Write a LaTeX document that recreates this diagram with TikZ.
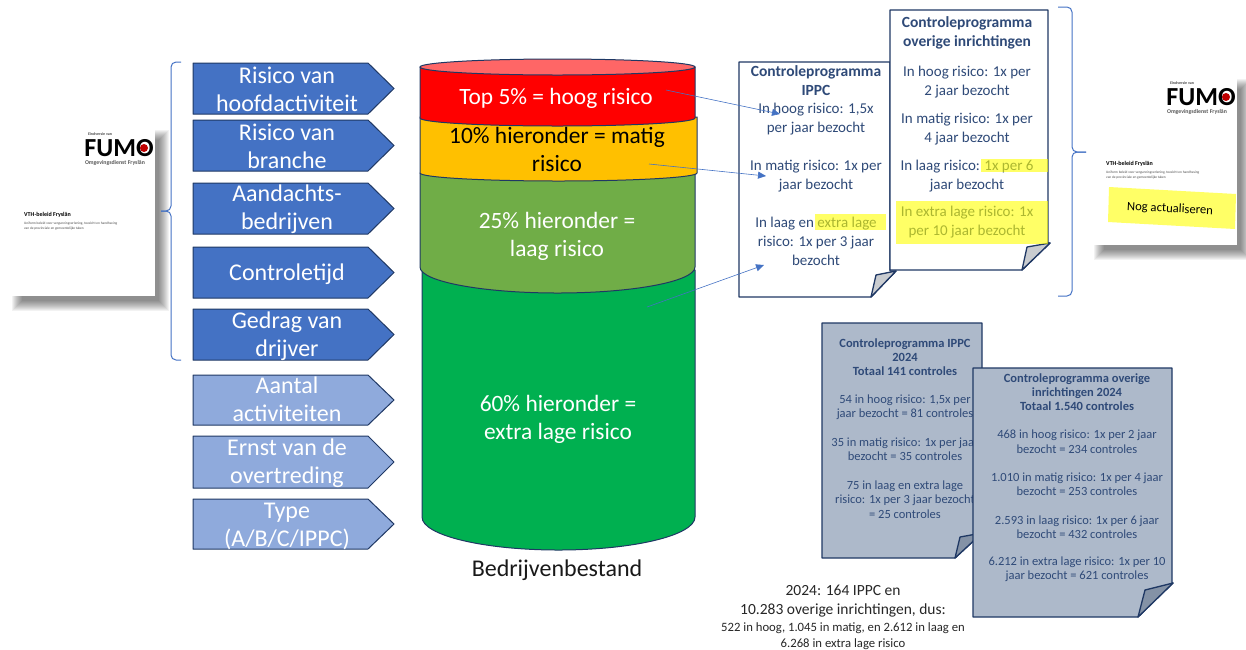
\documentclass[tikz,border=0pt]{standalone}
\usepackage{fontspec}
\setmainfont{Carlito}
\usetikzlibrary{arrows.meta}

\definecolor{navy}{HTML}{1F3864}
\definecolor{docblue}{HTML}{2F4A78}
\definecolor{chevdark}{HTML}{4472C4}
\definecolor{chevlight}{HTML}{8FAADC}
\definecolor{docfill}{HTML}{ADB9CA}
\definecolor{foldlight}{HTML}{C9CCD0}
\definecolor{folddark}{HTML}{8492A6}
\definecolor{markyellow}{HTML}{FFFF00}
\definecolor{drumred}{HTML}{FF0000}
\definecolor{drumtop}{HTML}{FF6666}
\definecolor{drumorange}{HTML}{FFC000}
\definecolor{drumolive}{HTML}{70AD47}
\definecolor{drumgreen}{HTML}{00B050}

\tikzset{
    chevlabel/.style={text=white,align=center,font=\fontsize{24}{28}\selectfont},
    drumlabel/.style={text=white,align=center,font=\fontsize{23.4}{28}\selectfont},
    doctext/.style={text=docblue,align=center,font=\fontsize{15}{19}\selectfont},
    doctitle/.style={text=docblue,align=center,font=\bfseries\fontsize{15.5}{19}\selectfont},
    smalldoc/.style={text=docblue,align=center,font=\fontsize{12.5}{14.4}\selectfont},
    smalltitle/.style={text=docblue,align=center,font=\bfseries\fontsize{12.5}{14.2}\selectfont},
    bottomtext/.style={text=black!85,align=center},
    docline/.style={draw=navy,line width=1.3pt,line join=round},
    slice/.style={draw=navy,line width=1pt},
    bracket/.style={draw=chevdark,line width=1pt,rounded corners=5pt},
    link/.style={draw=chevdark,line width=0.6pt,-{Triangle[length=8pt,width=7pt]}},
    highlight/.style={fill=markyellow,fill opacity=0.6}
}

\begin{document}
\begin{tikzpicture}[x=1pt,y=-1pt]
    \useasboundingbox (0,0) rectangle (1246,649);

    % report covers
    \foreach \cx/\cy/\cname in {8/125/left,1090/74/right} {
        \begin{scope}[shift={(\cx,\cy)}]
            \foreach \grow in {5,4,3,2,1,0,-1,-2,-3,-4,-5} {
                \fill[black,opacity=0.05] (9-\grow,10-\grow) rectangle (156+\grow,181+\grow);
            }
            \fill[white] (0,0) rectangle (147,171);
            \node[font=\bfseries\fontsize{4}{5}\selectfont,text=black!70,inner sep=0pt] (top\cname) at (92,9) {Eindversie van};
            \node[font=\bfseries\fontsize{26}{26}\selectfont,inner sep=0pt,text height=16pt,text depth=0pt] (logo\cname) at (111,23) {FUMO};
            \fill[red!75!black] (136,23) circle (4);
            \node[font=\bfseries\fontsize{5.8}{7}\selectfont,text=black!65,inner sep=0pt] (sub\cname) at (107,38) {Omgevingsdienst Fryslân};
            \node[font=\bfseries\fontsize{6}{6}\selectfont,anchor=west,inner sep=0pt] (title\cname) at (16,90) {VTH-beleid Fryslân};
            \node[font=\fontsize{3.5}{5}\selectfont,align=left,anchor=west,inner sep=0pt,text=black!70] (info\cname) at (16,101.5) {Uniform beleid voor vergunningverlening, toezicht en handhaving\\van de provinciale en gemeentelijke taken};
        \end{scope}
    }

    % chevrons
    \foreach \ya/\yb/\yt/\col/\name/\txt in {
        63/114/89.5/chevdark/hoofd/{Risico van\\hoofdactiviteit},
        120/171/146.5/chevdark/branche/{Risico van\\branche},
        183/234/209.5/chevdark/aandacht/{Aandachts-\\bedrijven},
        247/298/274.5/chevdark/tijd/{Controletijd},
        309/360/336/chevdark/gedrag/{Gedrag van\\drijver},
        375/425/399/chevlight/aantal/{Aantal\\activiteiten},
        436/488/463/chevlight/ernst/{Ernst van de\\overtreding},
        499/549/526/chevlight/soort/{Type\\(A/B/C/IPPC)}} {
        \draw[fill=\col,draw=navy,line width=1pt,line join=round]
            (193,\ya) -- (368,\ya) -- (394,{(\ya+\yb)/2}) -- (368,\yb) -- (193,\yb) -- cycle;
        \node[chevlabel] (\name) at (287,\yt) {\txt};
    }

    % braces
    \draw[bracket] (181,62) -- (171,62) -- (171,211) -- (161,211);
    \draw[bracket] (181,360) -- (171,360) -- (171,211) -- (161,211);
    \draw[bracket] (1058,7) -- (1072,7) -- (1072,152) -- (1086,152);
    \draw[bracket] (1058,296) -- (1072,296) -- (1072,152) -- (1086,152);

    % drum, lowest slice first
    \foreach \xa/\xb/\ya/\yb/\ry/\col in {
        422/695/270/517/33/drumgreen,
        420/695/173/267/26/drumolive,
        420/697/117/173/8/drumorange,
        420/695/67/118/8/drumred} {
        \draw[slice,fill=\col] (\xa,\ya) -- (\xa,\yb)
            arc[start angle=180,end angle=0,x radius={(\xb-\xa)/2},y radius=\ry] -- (\xb,\ya) -- cycle;
    }
    \draw[slice,fill=drumtop] (557.5,67) ellipse[x radius=137.5,y radius=8];

    \node[drumlabel] (top) at (556,98.5) {Top 5\% = hoog risico};
    \node[drumlabel,text=black] (matig) at (557,149.5) {10\% hieronder = matig\\risico};
    \node[drumlabel] (laag) at (557,236) {25\% hieronder =\\laag risico};
    \node[drumlabel] (extra) at (558,419) {60\% hieronder =\\extra lage risico};
    \node[font=\fontsize{24}{26}\selectfont,text=black!90] (bestand) at (557,570) {Bedrijvenbestand};

    % white programmes
    \draw[docline,fill=white] (739,62) -- (890,62) -- (890,271) -- (896,271) -- (871,297) -- (739,297) -- cycle;
    \draw[docline,fill=foldlight] (871,297) -- (876,275) -- (896,271) -- cycle;
    \node[doctitle] (ippctitle) at (816,80.5) {Controleprogramma\\IPPC};
    \node[doctext] (ippchoog) at (816,119.5) {In hoog risico: 1,5x\\per jaar bezocht};
    \node[doctext] (ippcmatig) at (816,176.5) {In matig risico: 1x per\\jaar bezocht};
    \node[doctext] (ippclaag) at (816,241) {In laag en extra lage\\risico: 1x per 3 jaar\\bezocht};
    \fill[highlight] (815,214) rectangle (886,230);

    \draw[docline,fill=white] (890,10) -- (1048,10) -- (1048,243) -- (1050,243) -- (1022,270) -- (890,270) -- cycle;
    \draw[docline,fill=foldlight] (1022,270) -- (1027,247) -- (1050,243) -- cycle;
    \node[doctitle] (overtitle) at (967,32.5) {Controleprogramma\\overige inrichtingen};
    \node[doctext] (overhoog) at (967,82.5) {In hoog risico: 1x per\\2 jaar bezocht};
    \node[doctext] (overmatig) at (967,129.5) {In matig risico: 1x per\\4 jaar bezocht};
    \node[doctext] (overlaag) at (967,176.5) {In laag risico: 1x per 6\\jaar bezocht};
    \node[doctext] (overextra) at (967,222.5) {In extra lage risico: 1x\\per 10 jaar bezocht};
    \fill[highlight] (981,159) rectangle (1048,172);
    \fill[highlight] (896,201) rectangle (1048,244);

    % note on the right cover
    \fill[markyellow!60] (1109,187) -- (1236,194) -- (1235,229) -- (1108,222) -- cycle;
    \node[rotate=-3,font=\fontsize{12.6}{16}\selectfont] (nog) at (1170,209) {Nog actualiseren};

    % grey programmes
    \draw[docline,fill=docfill] (822,323) -- (982,323) -- (982,533) -- (955,558) -- (822,558) -- cycle;
    \draw[docline,fill=folddark] (955,558) -- (960,537) -- (982,533) -- cycle;
    \node[smalltitle] (greyippc) at (905,357) {Controleprogramma IPPC\\2024\\Totaal 141 controles};
    \node[smalldoc] (greyhoog) at (905,407) {54 in hoog risico: 1,5x per\\jaar bezocht = 81 controles};
    \node[smalldoc] (greymatig) at (905,449.5) {35 in matig risico: 1x per jaar\\bezocht = 35 controles};
    \node[smalldoc] (greylaag) at (905,499.5) {75 in laag en extra lage\\risico: 1x per 3 jaar bezocht\\= 25 controles};

    \draw[docline,fill=docfill] (973,368) -- (1172,368) -- (1172,583) -- (1173,583) -- (1138,617) -- (973,617) -- cycle;
    \draw[docline,fill=folddark] (1138,617) -- (1145,590) -- (1173,583) -- cycle;
    \node[smalltitle] (greyover) at (1077,392) {Controleprogramma overige\\inrichtingen 2024\\Totaal 1.540 controles};
    \node[smalldoc] (greyoverhoog) at (1077,441.5) {468 in hoog risico: 1x per 2 jaar\\bezocht = 234 controles};
    \node[smalldoc] (greyovermatig) at (1077,484) {1.010 in matig risico: 1x per 4 jaar\\bezocht = 253 controles};
    \node[smalldoc] (greyoverlaag) at (1077,527) {2.593 in laag risico: 1x per 6 jaar\\bezocht = 432 controles};
    \node[smalldoc] (greyoverextra) at (1077,569.5) {6.212 in extra lage risico: 1x per 10\\jaar bezocht = 621 controles};

    % totals
    \node[bottomtext,font=\fontsize{15.5}{19}\selectfont] (totaal) at (843,601.5) {2024: 164 IPPC en\\10.283 overige inrichtingen, dus:};
    \node[bottomtext,font=\fontsize{12.7}{16}\selectfont] (verdeling) at (843,636) {522 in hoog, 1.045 in matig, en 2.612 in laag en\\6.268 in extra lage risico};

    % arrows
    \coordinate (hoogstart) at (666,90);
    \coordinate (hoogend) at (780,114);
    \coordinate (matigstart) at (649,164);
    \coordinate (matigend) at (766,176);
    \coordinate (laagstart) at (647,307);
    \coordinate (laagend) at (764,265);
    \draw[link] (hoogstart) -- (hoogend);
    \draw[link] (matigstart) -- (matigend);
    \draw[link] (laagstart) -- (laagend);
\end{tikzpicture}
\end{document}
